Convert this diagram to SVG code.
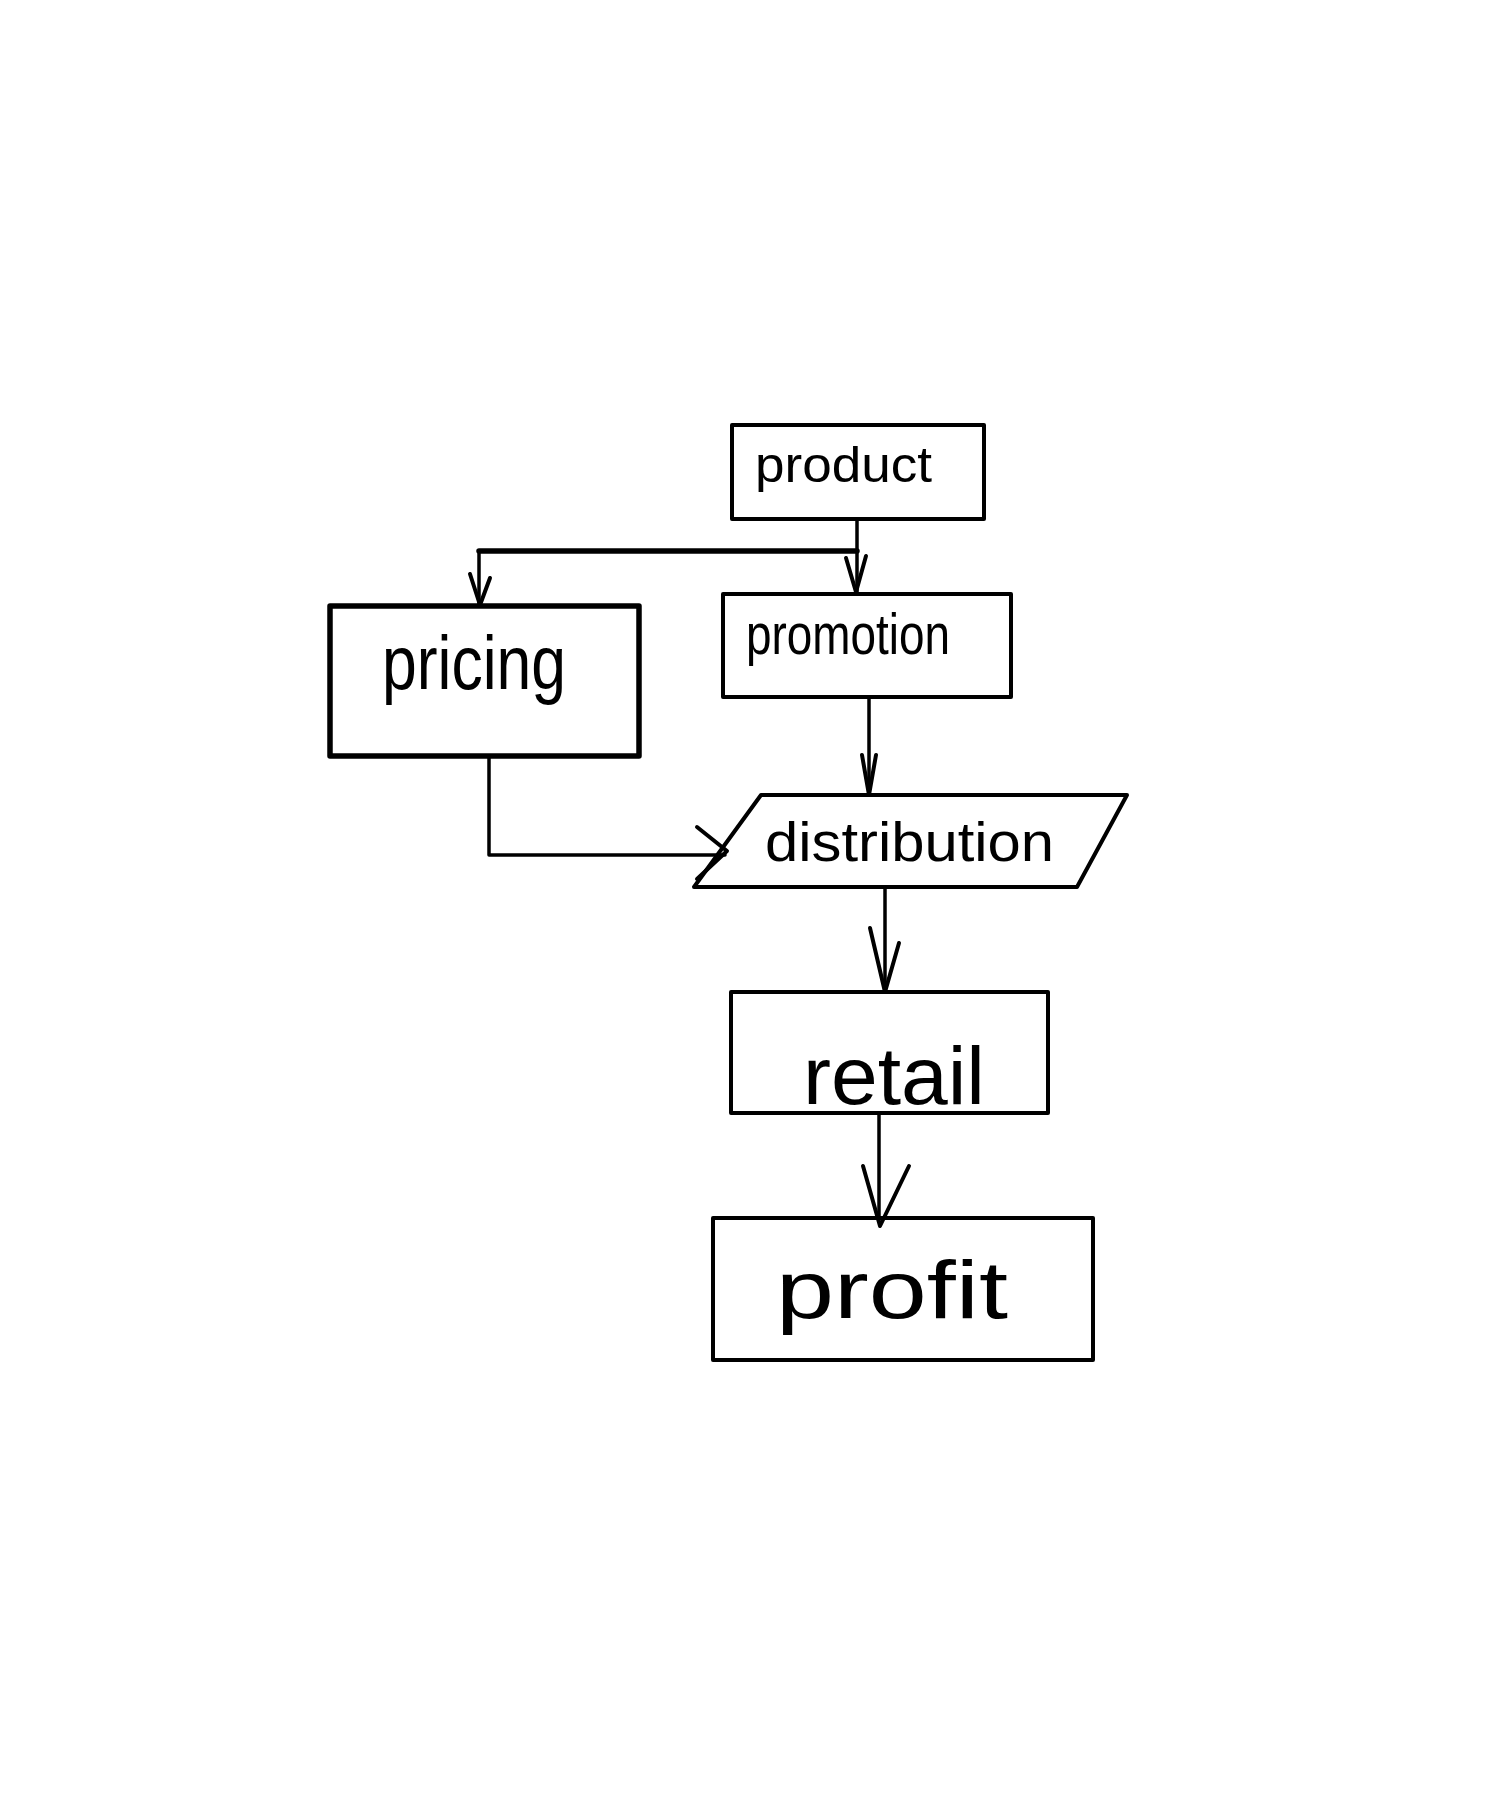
<svg xmlns="http://www.w3.org/2000/svg" width="1500" height="1800" viewBox="0 0 1500 1800">
<style>
.box{fill:#fff;stroke:#000;stroke-width:4;stroke-linejoin:round}
.thick{stroke-width:5.5}
.lbl{font-family:"Liberation Sans","DejaVu Sans",sans-serif;fill:#000}
.ln{fill:none;stroke:#000;stroke-width:3.5;stroke-linecap:round;stroke-linejoin:round}
.head{fill:none;stroke:#000;stroke-width:4;stroke-linecap:round;stroke-linejoin:round}
</style>
<rect width="1500" height="1800" fill="#fff"/>
<g id="product">
<rect class="box" x="732" y="425" width="252" height="94"/>
<text class="lbl" x="755" y="482" font-size="50" textLength="177" lengthAdjust="spacingAndGlyphs">product</text>
</g>
<g id="pricing">
<rect class="box thick" x="330" y="606" width="309" height="150"/>
<text class="lbl" x="382" y="689" font-size="76" textLength="184" lengthAdjust="spacingAndGlyphs">pricing</text>
</g>
<g id="promotion">
<rect class="box" x="723" y="594" width="288" height="103"/>
<text class="lbl" x="746" y="654" font-size="58" textLength="204" lengthAdjust="spacingAndGlyphs">promotion</text>
</g>
<g id="distribution">
<polygon class="box" points="761,795 1127,795 1077,887 694,887"/>
<text class="lbl" x="765" y="861" font-size="56" textLength="289" lengthAdjust="spacingAndGlyphs">distribution</text>
</g>
<g id="retail">
<rect class="box" x="731" y="992" width="317" height="121"/>
<text class="lbl" x="803" y="1104" font-size="82" textLength="182" lengthAdjust="spacingAndGlyphs">retail</text>
</g>
<g id="profit">
<rect class="box" x="713" y="1218" width="380" height="142"/>
<text class="lbl" x="776" y="1318" font-size="82" textLength="232" lengthAdjust="spacingAndGlyphs">profit</text>
</g>
<g id="connectors">
<path class="ln" d="M857,519 L857,592"/>
<path class="ln" d="M479,551 L857,551" style="stroke-width:5.5"/>
<path class="ln" d="M479,551 L479,605"/>
<polyline class="head" points="470,574 480,605 490,578"/>
<polyline class="head" points="846,558 856,592 866,556"/>
<path class="ln" d="M869,697 L869,795"/>
<polyline class="head" points="862,755 869,795 876,755"/>
<path class="ln" d="M489,756 L489,855 L725,855"/>
<polyline class="head" points="697,827 727,851 697,879"/>
<path class="ln" d="M885,887 L885,992"/>
<polyline class="head" points="870,928 885,992 899,943"/>
<path class="ln" d="M879,1113 L879,1218"/>
<polyline class="head" points="863,1166 880,1226 909,1166"/>
</g>
</svg>
